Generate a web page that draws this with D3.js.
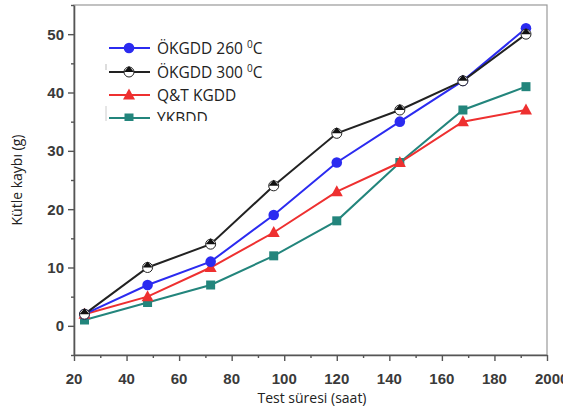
<!DOCTYPE html>
<html><head><meta charset="utf-8">
<script src="https://cdn.jsdelivr.net/npm/d3@7"></script>
<style>body{margin:0;background:#fff}svg{display:block}</style>
</head><body>
<svg id="c" width="563" height="414"></svg>
<script>
const hours = [24, 48, 72, 96, 120, 144, 168, 192];
const okgdd260 = [2, 7, 11, 19, 28, 35, 42, 51];
const okgdd300 = [2, 10, 14, 24, 33, 37, 42, 50];
const qtkgdd = [2, 5, 10, 16, 23, 28, 35, 37];
const ykbdd = [1, 4, 7, 12, 18, 28, 37, 41];
const xTicks = [20, 40, 60, 80, 100, 120, 140, 160, 180, 200];
const xTickLabels = ["20", "40", "60", "80", "100", "120", "140", "160", "180", "2000"];
const yTicks = [0, 10, 20, 30, 40, 50];
const seriesNames = ["ÖKGDD 260 ", "ÖKGDD 300 ", "Q&T KGDD", "YKBDD"];

const series = [
  {name: seriesNames[0], sup: true, values: okgdd260, color: "#2b2bf0", marker: "circle"},
  {name: seriesNames[1], sup: true, values: okgdd300, color: "#222", marker: "half"},
  {name: seriesNames[2], sup: false, values: qtkgdd, color: "#ee3030", marker: "triangle"},
  {name: seriesNames[3], sup: false, values: ykbdd, color: "#23857c", marker: "square"}
];

const svg = d3.select("#c");
const L = 74, R = 547, T = 5, B = 355;
const x = d3.scaleLinear().domain([20, 200]).range([L, R]);
const y = d3.scaleLinear().domain([-5, 55]).range([B, T]);

// frame
svg.append("rect").attr("x", L).attr("y", T).attr("width", R - L).attr("height", B - T)
  .attr("fill", "none").attr("stroke", "#999").attr("stroke-width", 1.2);

// axes
const tickFont = "bold 15px 'Liberation Sans', Arial, sans-serif";
const xAxis = d3.axisBottom(x).tickValues(d3.range(20, 201, 10)).tickSize(0).tickFormat("");
const gx = svg.append("g").attr("transform", `translate(0,${B})`).call(xAxis);
gx.select(".domain").attr("stroke", "#555").attr("stroke-width", 1.6);
gx.selectAll(".tick line").attr("y2", d => d % 20 === 0 ? 6 : 3).attr("stroke", "#555").attr("stroke-width", 1.4);
svg.append("g").selectAll("text").data(xTicks).join("text")
  .attr("x", (d, i) => i === xTicks.length - 1 ? x(d) - 12 : x(d))
  .attr("y", B + 29)
  .attr("text-anchor", (d, i) => i === xTicks.length - 1 ? "start" : "middle")
  .style("font", tickFont).attr("fill", "#3a3a3a")
  .text((d, i) => xTickLabels[i]);

const yAxis = d3.axisLeft(y).tickValues(d3.range(-5, 56, 5)).tickSize(0).tickFormat("");
const gy = svg.append("g").attr("transform", `translate(${L},0)`).call(yAxis);
gy.select(".domain").attr("stroke", "#555").attr("stroke-width", 1.6);
gy.selectAll(".tick line").attr("x2", d => d % 10 === 0 ? -6 : -3).attr("stroke", "#555").attr("stroke-width", 1.4);
svg.append("g").selectAll("text").data(yTicks).join("text")
  .attr("x", L - 10).attr("y", d => y(d) + 5.5).attr("text-anchor", "end")
  .style("font", tickFont).attr("fill", "#3a3a3a").text(d => d);

// axis titles
svg.append("text").attr("x", 312).attr("y", 403).attr("text-anchor", "middle")
  .style("font", "14px 'Open Sans', sans-serif").attr("fill", "#222").text("Test süresi (saat)");
svg.append("text").attr("transform", `translate(22,180) rotate(-90)`).attr("text-anchor", "middle")
  .style("font", "14px 'Open Sans', sans-serif").attr("fill", "#222").text("Kütle kaybı (g)");

function drawMarker(g, type, color, cx, cy) {
  if (type === "circle") {
    g.append("circle").attr("cx", cx).attr("cy", cy).attr("r", 5.3).attr("fill", color);
  } else if (type === "half") {
    const r = 5;
    g.append("circle").attr("cx", cx).attr("cy", cy).attr("r", r).attr("fill", "#fff").attr("stroke", "#222").attr("stroke-width", 1);
    g.append("path").attr("d", `M${cx - r},${cy} L${cx},${cy - r - 1} L${cx + r},${cy} Z`).attr("fill", "#111");
  } else if (type === "triangle") {
    g.append("path").attr("d", `M${cx},${cy - 6.5} L${cx + 6},${cy + 4.5} L${cx - 6},${cy + 4.5} Z`).attr("fill", color);
  } else if (type === "square") {
    g.append("rect").attr("x", cx - 4.5).attr("y", cy - 4.5).attr("width", 9).attr("height", 9).attr("fill", color);
  }
}

const line = d3.line().x(d => x(d[0])).y(d => y(d[1]));
const drawOrder = [3, 2, 0, 1];
drawOrder.forEach(i => {
  const s = series[i];
  const pts = hours.map((h, j) => [h, s.values[j]]);
  svg.append("path").attr("d", line(pts)).attr("fill", "none").attr("stroke", s.color).attr("stroke-width", 2);
});
drawOrder.forEach(i => {
  const s = series[i];
  const g = svg.append("g");
  hours.forEach((h, j) => drawMarker(g, s.marker, s.color, x(h), y(s.values[j])));
});

// legend
svg.append("defs").append("clipPath").attr("id", "lc").append("rect")
  .attr("x", 100).attr("y", 30).attr("width", 220).attr("height", 91);
const lg = svg.append("g").attr("clip-path", "url(#lc)");
const rowY = [48, 72, 95, 118];
series.forEach((s, i) => {
  const yy = rowY[i];
  lg.append("line").attr("x1", 109).attr("x2", 150).attr("y1", yy).attr("y2", yy)
    .attr("stroke", s.color).attr("stroke-width", 2);
  drawMarker(lg, s.marker, s.color, 129, yy);
  const t = lg.append("text").attr("x", 157).attr("y", yy + 5.5)
    .style("font", "15.5px 'Open Sans', sans-serif").attr("fill", "#222");
  t.append("tspan").text(s.name);
  if (s.sup) {
    t.append("tspan").attr("dy", -6).style("font-size", "10px").text("0");
    t.append("tspan").attr("dy", 6).text("C");
  }
});
svg.append("line").attr("x1", 106).attr("x2", 106).attr("y1", 64).attr("y2", 70).attr("stroke", "#bbb");
svg.append("line").attr("x1", 106).attr("x2", 106).attr("y1", 106).attr("y2", 121).attr("stroke", "#ccc");
</script>
</body></html>
